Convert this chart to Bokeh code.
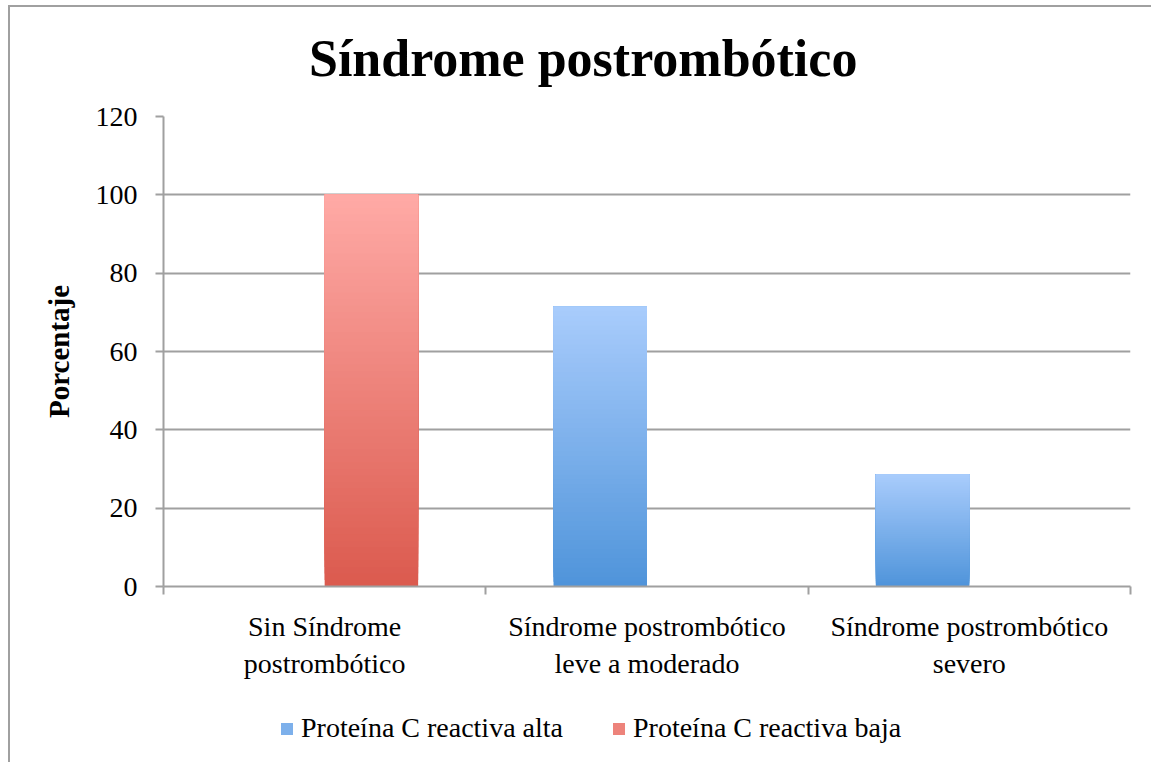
from bokeh.plotting import figure
from bokeh.layouts import column
from bokeh.models import Range1d, FixedTicker, ColumnDataSource, Legend, LegendItem, Label
from bokeh.embed import file_html
from bokeh.resources import INLINE

# ---- data ----
categories = ["Sin Síndrome\npostrombótico",
              "Síndrome postrombótico\nleve a moderado",
              "Síndrome postrombótico\nsevero"]
series_names = ["Proteína C reactiva alta", "Proteína C reactiva baja"]
alta = [0, 71.4, 28.6]
baja = [100, 0, 0]
y_ticks = [0, 20, 40, 60, 80, 100, 120]
title_text = "Síndrome postrombótico"
y_label = "Porcentaje"

# ---- styles ----
BLUE = ("#4F94DA", "#A9CCFC")   # bottom, top
RED = ("#DB5A4E", "#FFAAA6")
GRAY = "#A0A0A0"
FONT = "Liberation Serif"
N = 60
BAR_W = 0.29
OFFS = [-0.145, 0.145]
W = 1141


def mix(c1, c2, t):
    a = [int(c1[i:i + 2], 16) for i in (1, 3, 5)]
    b = [int(c2[i:i + 2], 16) for i in (1, 3, 5)]
    return "#%02x%02x%02x" % tuple(round(a[j] + (b[j] - a[j]) * t) for j in range(3))


def blank(height, xr, yr):
    f = figure(width=W, height=height, output_backend="svg", toolbar_location=None,
               x_axis_location=None, y_axis_location=None, x_range=xr, y_range=yr,
               min_border_left=0, min_border_right=0, min_border_top=0,
               min_border_bottom=0)
    f.outline_line_color = None
    f.background_fill_color = None
    f.border_fill_color = None
    f.grid.visible = False
    return f


# ---- title strip ----
p0 = blank(89, Range1d(0, 1), Range1d(0, 1))
p0.add_layout(Label(x=0.434, y=0.43, text=title_text, text_align="center",
                    text_baseline="alphabetic", text_font=FONT,
                    text_font_style="bold", text_font_size="52px",
                    text_color="black"))

# ---- main chart ----
p = figure(width=W, height=604, output_backend="svg", toolbar_location=None,
           x_range=Range1d(0, len(categories)), y_range=Range1d(0, 120),
           min_border_left=153, min_border_right=21, min_border_top=20,
           min_border_bottom=114)
p.outline_line_color = None
p.background_fill_color = "white"
p.border_fill_color = None

sources, legend_idx = [], []
for s, (vals, cols) in enumerate([(alta, BLUE), (baja, RED)]):
    xs, bottoms, tops, colors = [], [], [], []
    idx = 0
    for i, v in enumerate(vals):
        if v <= 0:
            continue
        for k in range(N):
            if k == N // 2 and idx == 0:
                idx = len(xs)
            xs.append(i + 0.5 + OFFS[s])
            bottoms.append(v * k / N)
            tops.append(v)
            colors.append(mix(cols[0], cols[1], (k + 0.5) / N))
    src = ColumnDataSource(dict(x=xs, bottom=bottoms, top=tops, color=colors))
    sources.append(src)
    legend_idx.append(idx)
    p.vbar(x="x", bottom="bottom", top="top", width=BAR_W, source=src,
           fill_color="color", line_color=None)

# grid
p.xgrid.grid_line_color = None
p.ygrid.grid_line_color = GRAY
p.ygrid.grid_line_width = 2
p.ygrid.ticker = FixedTicker(ticks=y_ticks)

# y axis
ya = p.yaxis[0]
ya.ticker = FixedTicker(ticks=y_ticks)
ya.axis_line_color = GRAY
ya.axis_line_width = 2
ya.major_tick_line_color = GRAY
ya.major_tick_line_width = 2
ya.major_tick_out = 8
ya.major_tick_in = 0
ya.minor_tick_line_color = None
ya.major_label_text_font = FONT
ya.major_label_text_font_size = "28px"
ya.major_label_text_color = "black"
ya.major_label_standoff = 18
ya.axis_label = y_label
ya.axis_label_text_font = FONT
ya.axis_label_text_font_style = "bold"
ya.axis_label_text_font_size = "29px"
ya.axis_label_text_color = "black"
ya.axis_label_standoff = 18

# x axis
xa = p.xaxis[0]
centers = [i + 0.5 for i in range(len(categories))]
xa.ticker = FixedTicker(ticks=centers, minor_ticks=list(range(len(categories) + 1)))
xa.major_label_overrides = {c: lab for c, lab in zip(centers, categories)}
xa.axis_line_color = GRAY
xa.axis_line_width = 2
xa.major_tick_line_color = None
xa.major_tick_out = 0
xa.major_tick_in = 0
xa.minor_tick_line_color = GRAY
xa.minor_tick_line_width = 2
xa.minor_tick_out = 8
xa.minor_tick_in = 0
xa.major_label_text_font = FONT
xa.major_label_text_font_size = "28px"
xa.major_label_text_color = "black"
xa.major_label_standoff = 16

# ---- legend strip: renderers share the bar data, ranges keep them out of sight ----
p2 = blank(62, Range1d(-101, -100), Range1d(1000, 1001))
items = []
for name, src, idx in zip(series_names, sources, legend_idx):
    r = p2.vbar(x="x", bottom="bottom", top="top", width=BAR_W, source=src,
                fill_color="color", line_color=None)
    items.append(LegendItem(label=name, renderers=[r], index=idx))
leg = Legend(items=items, orientation="horizontal", location=(116, 18),
             glyph_width=15, glyph_height=15, label_standoff=7, spacing=48,
             padding=0, margin=0, label_height=30,
             label_text_font=FONT, label_text_font_size="28px",
             label_text_color="black", border_line_color=None,
             background_fill_alpha=0)
p2.add_layout(leg)

layout = column(p0, p, p2, spacing=0)
layout.styles = {"border-left": "2px solid #A0A0A0", "border-top": "2px solid #A0A0A0",
                 "margin-left": "8px", "margin-top": "5px", "background": "white"}

open("out.html", "w").write(file_html(layout, INLINE))
